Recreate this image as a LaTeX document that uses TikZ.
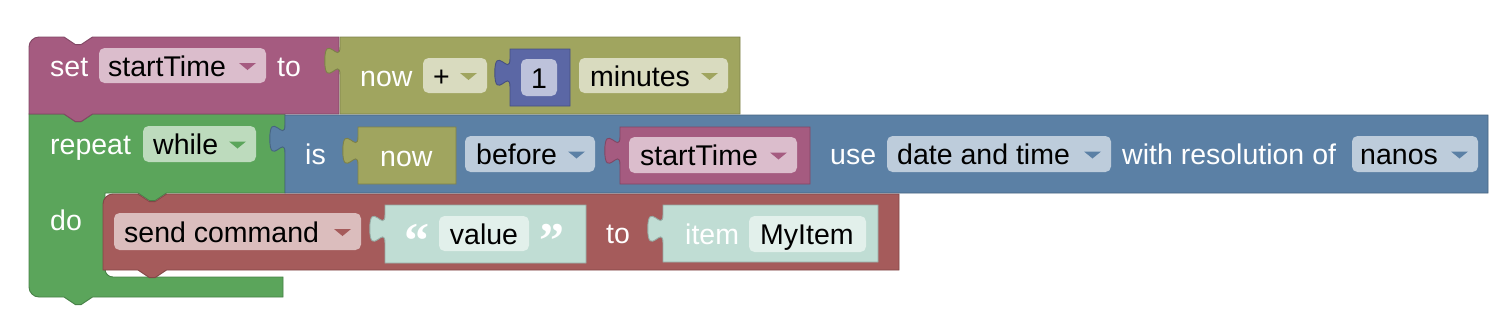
\documentclass[tikz,border=0pt]{standalone}
\usepackage{fontspec}
\setmainfont{Liberation Sans}
\newfontfamily\quotefont{Liberation Serif}
\definecolor{cset}{RGB}{165,91,128}
\definecolor{colive}{RGB}{160,165,95}
\definecolor{cnum}{RGB}{91,103,165}
\definecolor{cloop}{RGB}{91,165,91}
\definecolor{cdate}{RGB}{91,128,165}
\definecolor{csend}{RGB}{165,91,91}
\definecolor{ctext}{RGB}{192,221,212}
\definecolor{ctextf}{RGB}{226,240,235}
% puzzle tab on a left edge, drawn upward; #1 = edge x, #2 = block top y
\newcommand\tabup[2]{-- (#1,#2+38) .. controls (#1,#2+19) and (#1-15.2,#2+53.2) .. (#1-15.2,#2+23.75) .. controls (#1-15.2,#2-5.7) and (#1,#2+28.5) .. (#1,#2+9.5)}
% notch on a top edge going right
\newcommand\notchR[2]{-- (#1,#2) -- (#1+11.4,#2+7.6) -- (#1+17.1,#2+7.6) -- (#1+28.5,#2)}
% tab below a bottom edge going left
\newcommand\notchL[2]{-- (#1+28.5,#2) -- (#1+17.1,#2+7.6) -- (#1+11.4,#2+7.6) -- (#1,#2)}
\newcommand\valblock[5]{\path[fill=#1,draw=#1!78!black,line width=0.9pt] (#2,#3) -- (#4,#3) -- (#4,#5) -- (#2,#5) \tabup{#2}{#3} -- cycle;}
\newcommand\fieldbox[5]{\fill[#1,rounded corners=5.5pt] (#2,#3) rectangle (#4,#5);}
\newcommand\ddarrow[3]{\fill[#1] (#2-17,#3-2.5) -- (#2,#3-2.5) -- (#2-8.5,#3+4.5) -- cycle;}
\tikzset{
  lbl/.style={text=white,font=\fontsize{28.5}{30}\selectfont,inner sep=0pt,anchor=base west},
  fld/.style={text=black,font=\fontsize{28.5}{30}\selectfont,inner sep=0pt,anchor=base west},
  quot/.style={text=white,font=\quotefont\fontsize{50}{52}\selectfont\bfseries,inner sep=0pt,anchor=base},
  blk/.style={fill=#1,draw=#1!78!black,line width=0.9pt},
}
\begin{document}
\begin{tikzpicture}[x=1pt,y=-1pt]
\useasboundingbox (0,0) rectangle (1512,330);
\fill[white] (0,0) rectangle (1512,330);
% ---------- repeat while (green C block)
\path[blk=cloop]
  (29,114) \notchR{64}{114} -- (285,114) -- (285,193)
  \notchL{138}{193} -- (105,193) -- (105,269) .. controls (105,273.5) and (108.5,277) .. (113,277)
  -- (283,277) -- (283,297) \notchL{64}{297} -- (39,297)
  .. controls (33.5,297) and (29,292.5) .. (29,287) -- (29,114) -- cycle;
% ---------- set block
\path[blk=cset]
  (29,114) -- (29,47) .. controls (29,41.5) and (33.5,37) .. (39,37) \notchR{64}{37} -- (339,37) -- (339,114)
  \notchL{64}{114} -- cycle;
% ---------- now + 1 minutes
\valblock{colive}{340}{37}{740}{114}
\valblock{cnum}{510}{49}{570}{106}
% ---------- is ... block
\valblock{cdate}{285}{115}{1488}{193}
\valblock{colive}{358}{127}{456}{184}
\valblock{cset}{620}{127}{810}{184}
% ---------- send command block
\path[blk=csend]
  (103,270) -- (103,204) .. controls (103,198.5) and (107.5,194) .. (113,194) \notchR{138}{194} -- (899,194) -- (899,270)
  \notchL{138}{270} -- cycle;
\valblock{ctext}{385}{205}{586}{263}
\valblock{ctext}{663}{205}{878}{262}
% ---------- fields
\fieldbox{cset!40!white}{99}{48}{266}{83}
\ddarrow{cset}{256}{65.5}
\fieldbox{colive!40!white}{423}{58}{487}{93}
\ddarrow{colive}{477}{75.5}
\fieldbox{cnum!40!white}{521}{59}{557}{96}
\fieldbox{colive!40!white}{579}{58}{728}{93}
\ddarrow{colive}{718}{75.5}
\fieldbox{cloop!40!white}{143}{126}{256}{162}
\ddarrow{cloop}{246}{144}
\fieldbox{cdate!40!white}{465}{136}{595}{172}
\ddarrow{cdate}{585}{154}
\fieldbox{cset!40!white}{629}{137}{797}{173}
\ddarrow{cset}{787}{155}
\fieldbox{cdate!40!white}{887}{136}{1111}{172}
\ddarrow{cdate}{1101}{154}
\fieldbox{cdate!40!white}{1352}{136}{1478}{172}
\ddarrow{cdate}{1468}{154}
\fieldbox{csend!40!white}{114}{213}{361}{250}
\ddarrow{csend}{351}{231.5}
\fieldbox{ctextf}{439}{216}{529}{251}
\fieldbox{ctextf}{749}{216}{866}{252}
% ---------- texts
\node[lbl] (tset) at (50,76) {set};
\node[fld] (fst1) at (108,76) {startTime};
\node[lbl] (tto) at (277,76) {to};
\node[lbl] (tnow1) at (360,86) {now};
\node[fld] (fplus) at (433,86) {+};
\node[fld,anchor=base] (fone) at (539,88) {1};
\node[fld] (fmin) at (590,86) {minutes};
\node[lbl] (trep) at (50,154) {repeat};
\node[fld] (fwhile) at (153,154) {while};
\node[lbl] (tis) at (305,164) {is};
\node[lbl] (tnow2) at (380,166) {now};
\node[fld] (fbef) at (476,164) {before};
\node[fld] (fst2) at (640,165) {startTime};
\node[lbl] (tuse) at (830,164) {use};
\node[fld] (fdat) at (897,164) {date and time};
\node[lbl] (twith) at (1122,164) {with resolution of};
\node[fld] (fnan) at (1360,164) {nanos};
\node[lbl] (tdo) at (50,230) {do};
\node[fld] (fsend) at (124,242) {send command};
\node[quot] (qopen) at (417,257) {“};
\node[fld,anchor=base] (fval) at (484,244) {value};
\node[quot] (qclose) at (552,257) {”};
\node[lbl] (tto2) at (606,243) {to};
\node[lbl] (titem) at (685,244) {item};
\node[fld] (fmy) at (760,244) {MyItem};
\end{tikzpicture}
\end{document}
